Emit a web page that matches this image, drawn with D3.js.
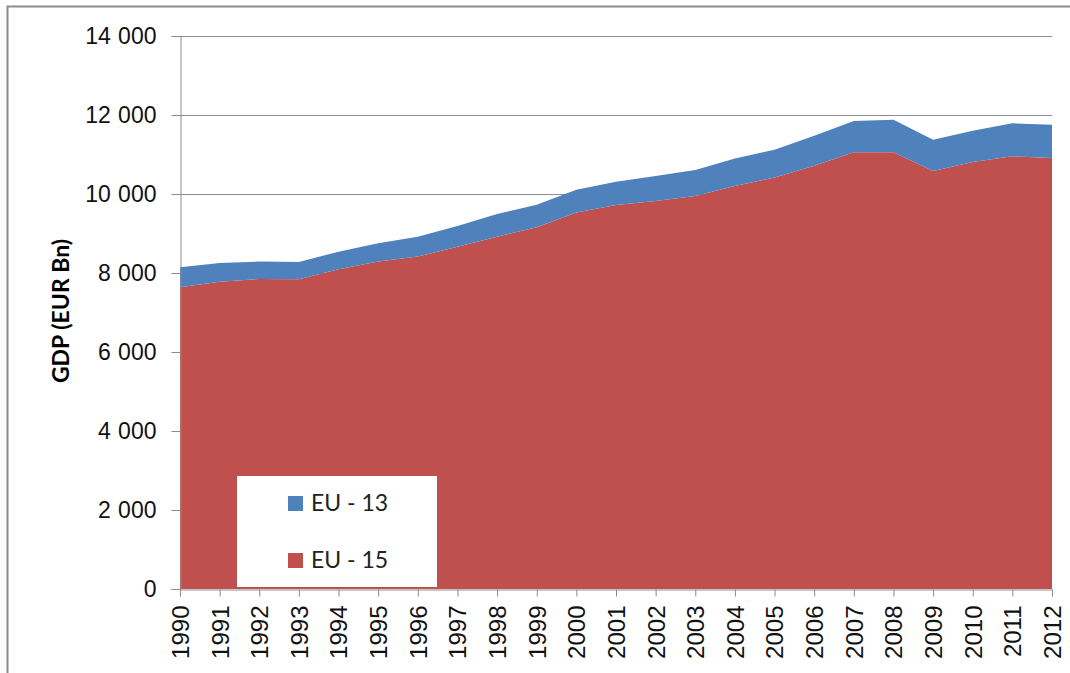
<!DOCTYPE html>
<html>
<head>
<meta charset="utf-8">
<script src="https://cdn.jsdelivr.net/npm/d3@7"></script>
<style>
  html, body { margin: 0; padding: 0; background: #fff; }
  svg { display: block; font-family: Lato, "Liberation Sans", sans-serif; }
</style>
</head>
<body>
<div id="chart"></div>
<script>
// GDP by group, EUR Bn
const years = [1990, 1991, 1992, 1993, 1994, 1995, 1996, 1997, 1998, 1999, 2000, 2001,
               2002, 2003, 2004, 2005, 2006, 2007, 2008, 2009, 2010, 2011, 2012];
const eu15 = [7640, 7780, 7850, 7840, 8095, 8290, 8415, 8665, 8920, 9160, 9530, 9720,
              9825, 9950, 10200, 10415, 10715, 11055, 11055, 10580, 10810, 10955, 10910];
const eu13 = [505, 475, 440, 440, 445, 465, 505, 525, 575, 565, 575, 590,
              630, 660, 700, 705, 760, 795, 825, 795, 790, 835, 845];
const seriesNames = ["EU - 15", "EU - 13"];
const seriesColors = ["#C0504D", "#4F81BD"];
const yTicks = [0, 2000, 4000, 6000, 8000, 10000, 12000, 14000];

const width = 1070, height = 673;
const plot = { left: 180, right: 1052, top: 36, bottom: 589 };

const svg = d3.select("#chart").append("svg")
    .attr("width", width)
    .attr("height", height);

// outer chart frame (only top and left edges are in the picture)
svg.append("path")
    .attr("d", `M7.5,${height} L7.5,6.5 L${width},6.5`)
    .attr("fill", "none")
    .attr("stroke", "#8c8c8c")
    .attr("stroke-width", 2);

const x = d3.scalePoint().domain(years).range([plot.left, plot.right]);
const y = d3.scaleLinear().domain([0, 14000]).range([plot.bottom, plot.top]);

// gridlines
svg.append("g")
    .selectAll("line")
    .data(yTicks.slice(1))
    .enter().append("line")
    .attr("x1", plot.left).attr("x2", plot.right)
    .attr("y1", d => y(d) + 0.5).attr("y2", d => y(d) + 0.5)
    .attr("stroke", "#8c8c8c")
    .attr("stroke-width", 1);

// stacked areas
const table = years.map((yr, i) => ({ year: yr, "EU - 15": eu15[i], "EU - 13": eu13[i] }));
const stack = d3.stack().keys(seriesNames)(table);
const area = d3.area()
    .x(d => x(d.data.year))
    .y0(d => y(d[0]))
    .y1(d => y(d[1]));

svg.append("g")
    .selectAll("path")
    .data(stack)
    .enter().append("path")
    .attr("d", area)
    .attr("fill", (d, i) => seriesColors[i]);

// y axis
const yAxis = svg.append("g")
    .attr("transform", `translate(${plot.left + 0.5},0)`)
    .call(d3.axisLeft(y).tickValues(yTicks).tickSize(9).tickPadding(15)
        .tickFormat(d => d3.format(",")(d).replace(",", " ")));
yAxis.select(".domain").attr("stroke", "#8c8c8c");
yAxis.selectAll(".tick line").attr("stroke", "#8c8c8c");
yAxis.selectAll("text")
    .attr("fill", "#111")
    .style("font-size", "23px")
    .style("word-spacing", "1px");

// x axis
const xAxis = svg.append("g")
    .attr("transform", `translate(0,${plot.bottom + 0.5})`)
    .call(d3.axisBottom(x).tickSize(7).tickPadding(0));
xAxis.select(".domain").attr("stroke", "#8c8c8c");
xAxis.selectAll(".tick line").attr("stroke", "#8c8c8c");
xAxis.selectAll("text")
    .attr("fill", "#111")
    .style("font-size", "24px")
    .attr("text-anchor", "end")
    .attr("dy", "0.35em")
    .attr("transform", "translate(0,16) rotate(-90)")
    .attr("y", 0)
    .attr("x", 0);

// y axis title
svg.append("text")
    .attr("transform", `translate(69,311) rotate(-90)`)
    .attr("text-anchor", "middle")
    .style("font-size", "23px")
    .style("font-weight", "bold")
    .text("GDP (EUR Bn)");

// legend
const legend = svg.append("g").attr("transform", "translate(237,476)");
legend.append("rect")
    .attr("width", 200).attr("height", 111)
    .attr("fill", "#fff");
const legendItems = [
    { name: seriesNames[1], color: seriesColors[1], y: 27 },
    { name: seriesNames[0], color: seriesColors[0], y: 84 }
];
const item = legend.selectAll("g.item")
    .data(legendItems)
    .enter().append("g")
    .attr("transform", d => `translate(51,${d.y})`);
item.append("rect")
    .attr("x", 0).attr("y", -7)
    .attr("width", 15).attr("height", 15)
    .attr("fill", d => d.color);
item.append("text")
    .attr("x", 23).attr("y", 0)
    .attr("dy", "0.36em")
    .style("font-size", "23px")
    .attr("fill", "#222")
    .text(d => d.name);
</script>
</body>
</html>
